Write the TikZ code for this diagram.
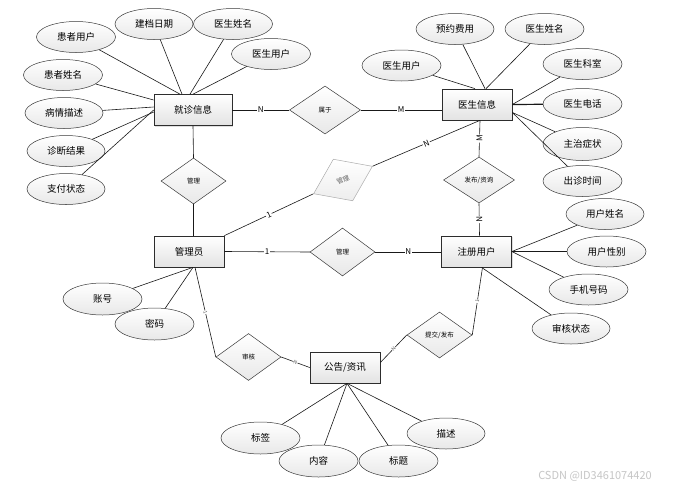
\documentclass[tikz,border=0pt]{standalone}
\usepackage{fontspec}
\setmainfont{Noto Sans CJK SC}
\usetikzlibrary{shapes.geometric,shadows,calc}
\tikzset{
  ent/.style={rectangle, draw=gray!35!black, line width=0.7pt, top color=white, bottom color=gray!22,
    minimum width=70pt, minimum height=31pt, inner sep=0pt,
    drop shadow={shadow xshift=1.2pt, shadow yshift=-1.2pt, opacity=0.25},
    font=\fontsize{9.5}{11}\selectfont},
  attr/.style={ellipse, draw=gray!45!black, line width=0.5pt, top color=white, bottom color=gray!18,
    minimum width=79pt, minimum height=31pt, inner sep=0pt, font=\fontsize{9.5}{11}\selectfont},
  rel/.style={diamond, draw=gray!45!black, line width=0.5pt, top color=white, bottom color=gray!18,
    minimum width=65pt, minimum height=47pt, inner sep=0pt, font=\fontsize{6.5}{8}\selectfont},
  conn/.style={draw=gray!20!black, line width=0.6pt},
  card/.style={fill=white, inner sep=0.8pt, font=\fontsize{8}{8}\selectfont},
  tinycard/.style={fill=white, inner sep=0.3pt, text=gray!70!black, font=\fontsize{5}{5}\selectfont},
}
\begin{document}
\begin{tikzpicture}[x=1pt,y=-1pt]
\useasboundingbox[fill=white] (0,0) rectangle (676,490);

% entities
\node[ent, minimum width=78pt] (jz) at (193,110) {就诊信息};
\node[ent] (ys) at (477,104.5) {医生信息};
\node[ent] (gly) at (189,251.5) {管理员};
\node[ent] (zc) at (476.5,251.5) {注册用户};
\node[ent] (gg) at (345,367.5) {公告/资讯};

% relationships
\node[rel, minimum width=71pt, minimum height=48pt] (shuyu) at (325,110) {属于};
\node[rel, minimum height=46pt] (gl1) at (193.5,181) {管理};
\node[rel, minimum height=46pt, rotate=25, draw=gray!65, top color=white, bottom color=gray!14, text=gray!75!black] (gl2) at (343,180) {管理};
\node[rel, minimum width=71pt, minimum height=46pt] (fb) at (479,180) {发布/资询};
\node[rel, minimum height=48pt] (gl3) at (342.5,252) {管理};
\node[rel] (sh) at (248.5,357) {审核};
\node[rel, minimum height=46pt] (tj) at (439.5,335) {提交/发布};

% attributes of 就诊信息
\node[attr] (hzyh) at (76,37) {患者用户};
\node[attr, minimum width=78pt] (jdrq) at (154,24) {建档日期};
\node[attr] (ysxm1) at (233,24) {医生姓名};
\node[attr] (ysyh1) at (271,54) {医生用户};
\node[attr] (hzxm) at (63,75) {患者姓名};
\node[attr, minimum width=78pt] (bqms) at (64,113) {病情描述};
\node[attr, minimum width=78pt] (zdjg) at (66,151) {诊断结果};
\node[attr, minimum width=78pt] (zfzt) at (66,189) {支付状态};

% attributes of 医生信息
\node[attr] (ysyh2) at (401.5,65.5) {医生用户};
\node[attr, minimum width=78pt] (yyfy) at (455,29) {预约费用};
\node[attr] (ysxm2) at (544.5,29) {医生姓名};
\node[attr] (yske) at (582.5,64) {医生科室};
\node[attr] (ysdh) at (582.5,104) {医生电话};
\node[attr, minimum height=33pt] (zzzz) at (582.5,144) {主治症状};
\node[attr] (czsj) at (582.5,181) {出诊时间};

% attributes of 注册用户
\node[attr, minimum width=78pt] (yhxm) at (605,214) {用户姓名};
\node[attr] (yhxb) at (606.5,251.5) {用户性别};
\node[attr] (sjhm) at (588.5,289.5) {手机号码};
\node[attr, minimum width=78pt] (shzt) at (571,328.5) {审核状态};

% attributes of 管理员
\node[attr, minimum height=32pt] (zh) at (102.5,299) {账号};
\node[attr, minimum height=32pt] (mm) at (154.5,324) {密码};

% attributes of 公告/资讯
\node[attr, minimum height=32pt] (bq) at (260.5,438) {标签};
\node[attr, minimum height=32pt] (nr) at (318.5,461) {内容};
\node[attr, minimum height=32pt] (bt) at (398.5,461) {标题};
\node[attr, minimum width=78pt] (ms) at (446,433.5) {描述};

% attribute connectors
\draw[conn] (hzyh) -- ([xshift=-13pt]jz.north);
\draw[conn] (jdrq) -- ([xshift=-11pt]jz.north);
\draw[conn] (ysxm1) -- ([xshift=-3pt]jz.north);
\draw[conn] (ysyh1) -- (jz.north);
\draw[conn] (hzxm) -- ([yshift=10pt]jz.west);
\draw[conn] (bqms) -- ([yshift=3pt]jz.west);
\draw[conn] (zdjg) -- ([yshift=-2pt]jz.west);
\draw[conn] (zfzt) -- (jz.west);

\draw[conn] (ysyh2) -- ([xshift=-2pt]ys.north);
\draw[conn] (yyfy) -- ([xshift=8pt]ys.north);
\draw[conn] (ysxm2) -- ([xshift=9pt]ys.north);
\draw[conn] (yske) -- (ys.east);
\draw[conn, line width=1.2pt] (ysdh) -- (ys.east);
\draw[conn] (zzzz) -- ([yshift=-8pt]ys.east);
\draw[conn] (czsj) -- ([yshift=-8pt]ys.east);

\draw[conn] (yhxm) -- (zc.east);
\draw[conn] (yhxb) -- (zc.east);
\draw[conn] (sjhm) -- (zc.east);
\draw[conn] (shzt) -- ([xshift=5pt]zc.south);

\draw[conn] (zh) -- ([xshift=4pt]gly.south);
\draw[conn] (mm) -- ([xshift=4pt]gly.south);

\draw[conn] (bq) -- ([xshift=2pt]gg.south);
\draw[conn] (nr) -- ([xshift=2pt]gg.south);
\draw[conn] (bt) -- ([xshift=2pt]gg.south);
\draw[conn] (ms) -- ([xshift=2pt]gg.south);

% relationship connectors
\draw[conn] (jz.east) -- node[card] {N} (shuyu.west);
\draw[conn] (shuyu.east) -- node[card] {M} (shuyu.east -| ys.west);
\draw[conn] (jz.south) -- (gl1.north);
\draw[conn] (gl1.south) -- (gl1.south |- gly.north);
\draw[conn] (gly.north east) -- node[card, sloped] {1} (gl2.west);
\draw[conn] (gl2.east) -- node[card, sloped] {N} ([xshift=3pt]ys.south);
\draw[conn] (fb.north) -- node[card, sloped] {M} ([xshift=3pt]ys.south);
\draw[conn] ([xshift=3pt]zc.north) -- node[card, sloped] {N} (fb.south);
\draw[conn] (gly.east) -- node[card] {1} (gl3.west);
\draw[conn] (gl3.east) -- node[card] {N} (gl3.east -| zc.west);
\draw[conn] ([xshift=6pt]gly.south) -- node[tinycard, sloped] {1} (sh.west);
\draw[conn] (sh.east) -- node[tinycard, sloped] {N} (gg.west);
\draw[conn] ([xshift=6pt]zc.south) -- node[tinycard, sloped] {1} (tj.east);
\draw[conn] (tj.west) -- node[tinycard, sloped] {N} ([yshift=5pt]gg.east);

% watermark
\node[text=gray!45, font=\fontsize{11}{12}\selectfont] (wm) at (595,476) {CSDN @ID3461074420};
\end{tikzpicture}
\end{document}
